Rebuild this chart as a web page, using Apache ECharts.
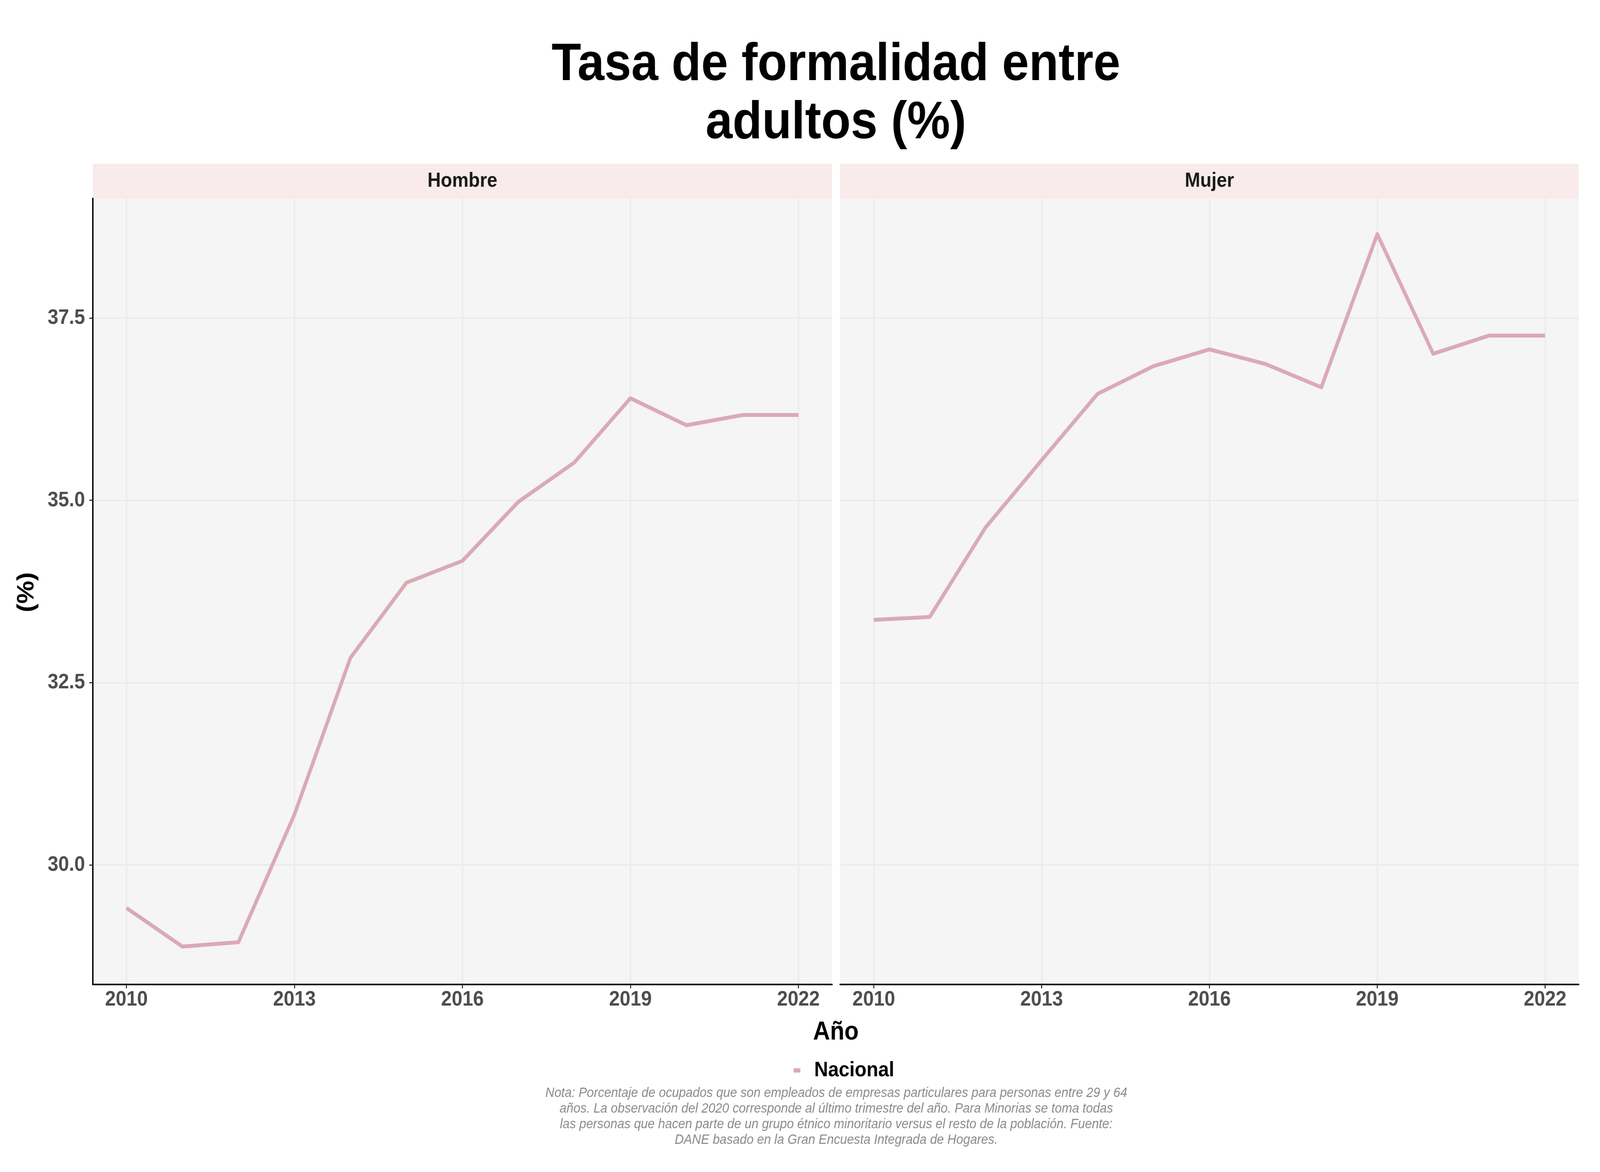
<!DOCTYPE html>
<html>
<head>
<meta charset="utf-8">
<script src="https://cdn.jsdelivr.net/npm/echarts@6/dist/echarts.min.js"></script>
<style>html,body{margin:0;padding:0;background:#fff;overflow:hidden}#c{width:4500px;height:3000px;transform-origin:0 0}</style>
</head>
<body>
<div id="c"></div>
<script>
const years = [2010, 2011, 2012, 2013, 2014, 2015, 2016, 2017, 2018, 2019, 2020, 2021, 2022];
const hombre = [29.41, 28.88, 28.94, 30.69, 32.84, 33.87, 34.17, 34.98, 35.52, 36.40, 36.03, 36.17, 36.17];
const mujer = [33.36, 33.40, 34.63, 35.55, 36.46, 36.84, 37.07, 36.87, 36.55, 38.65, 37.01, 37.26, 37.26];
const xTicks = [2010, 2013, 2016, 2019, 2022];
const yTicks = [30, 32.5, 35, 37.5];
const panels = ['Hombre', 'Mujer'];
const seriesName = 'Nacional';
const titleText = 'Tasa de formalidad entre\nadultos (%)';
const xTitle = 'Año';
const yTitle = '(%)';
const noteText = 'Nota: Porcentaje de ocupados que son empleados de empresas particulares para personas entre 29 y 64\naños. La observación del 2020 corresponde al último trimestre del año. Para Minorias se toma todas\nlas personas que hacen parte de un grupo étnico minoritario versus el resto de la población. Fuente:\nDANE basado en la Gran Encuesta Integrada de Hogares.';

// The page is designed on a 4500x3000 canvas and scaled to fit the actual viewport.
const W = 4500, H = 3000;
const el = document.getElementById('c');
const vw = window.innerWidth || W, vh = window.innerHeight || H;
el.style.transform = 'scale(' + (vw / W) + ',' + (vh / H) + ')';

const FONT = '"Liberation Sans", Arial, Helvetica, sans-serif';
const LINE_COLOR = '#DAAAB5';
const grids = [
  {left: 261, width: 2079, top: 508, bottom: 480},
  {left: 2363, width: 2077, top: 508, bottom: 480}
];

const chart = echarts.init(el, null, {renderer: 'canvas', width: W, height: H});

function xAxisFor(i) {
  return {
    type: 'value', gridIndex: i, min: 2009.4, max: 2022.6,
    axisLine: {show: true, lineStyle: {color: '#000', width: 4}},
    axisTick: {show: true, customValues: xTicks, length: 10, lineStyle: {color: '#333', width: 3}},
    axisLabel: {show: true, customValues: xTicks, margin: 12, color: '#4d4d4d', fontSize: 54, fontWeight: 'bold', fontFamily: FONT, formatter: v => String(v)},
    splitLine: {show: true, lineStyle: {color: '#ebebeb', width: 4}}
  };
}
function yAxisFor(i) {
  return {
    type: 'value', gridIndex: i, min: 28.36, max: 39.14,
    axisLine: {show: i === 0, lineStyle: {color: '#000', width: 4}},
    axisTick: {show: i === 0, customValues: yTicks, length: 10, lineStyle: {color: '#333', width: 3}},
    axisLabel: {show: i === 0, customValues: yTicks, margin: 22, color: '#4d4d4d', fontSize: 54, fontWeight: 'bold', fontFamily: FONT, formatter: v => v.toFixed(1)},
    splitLine: {show: true, lineStyle: {color: '#ebebeb', width: 4}}
  };
}

const dataSets = [hombre, mujer];
const option = {
  backgroundColor: '#ffffff',
  animation: false,
  grid: grids.map(g => Object.assign({show: true, backgroundColor: '#f5f5f5', borderWidth: 0}, g)),
  xAxis: [xAxisFor(0), xAxisFor(1)],
  yAxis: [yAxisFor(0), yAxisFor(1)],
  legend: {
    data: [seriesName], left: 2227, top: 2708, icon: 'rect', itemWidth: 19, itemHeight: 11,
    textStyle: {fontSize: 54, fontWeight: 'bold', color: '#000', fontFamily: FONT, padding: [0, 0, 0, 34]}
  },
  series: dataSets.map((d, i) => ({
    name: seriesName, type: 'line', xAxisIndex: i, yAxisIndex: i,
    data: years.map((y, k) => [y, d[k]]),
    showSymbol: false, symbol: 'none',
    lineStyle: {color: LINE_COLOR, width: 10, join: 'round', cap: 'butt'},
    itemStyle: {color: LINE_COLOR}
  })),
  graphic: [
    {type: 'text', x: 2351, y: 242, style: {text: titleText, textAlign: 'center', textVerticalAlign: 'middle', fontSize: 136, lineHeight: 149, fontWeight: 'bold', fontFamily: FONT, fill: '#000'}},
    ...panels.flatMap((p, i) => [
      {type: 'rect', shape: {x: grids[i].left, y: 419, width: grids[i].width, height: 89}, style: {fill: '#f9ebeb'}},
      {type: 'text', x: grids[i].left + grids[i].width / 2, y: 464, style: {text: p, textAlign: 'center', textVerticalAlign: 'middle', fontSize: 52, fontWeight: 'bold', fontFamily: FONT, fill: '#1a1a1a'}}
    ]),
    {type: 'text', x: 2351, y: 2643, style: {text: xTitle, textAlign: 'center', textVerticalAlign: 'middle', fontSize: 66, fontWeight: 'bold', fontFamily: FONT, fill: '#000'}},
    {type: 'text', x: 76, y: 1516, rotation: Math.PI / 2, style: {text: yTitle, textAlign: 'center', textVerticalAlign: 'middle', fontSize: 66, fontWeight: 'bold', fontFamily: FONT, fill: '#000'}},
    {type: 'text', x: 2352, y: 2858, style: {text: noteText, textAlign: 'center', textVerticalAlign: 'middle', fontSize: 35, lineHeight: 40, fontStyle: 'italic', fontFamily: FONT, fill: '#8a8a8a'}}
  ]
};
chart.setOption(option);
</script>
</body>
</html>
